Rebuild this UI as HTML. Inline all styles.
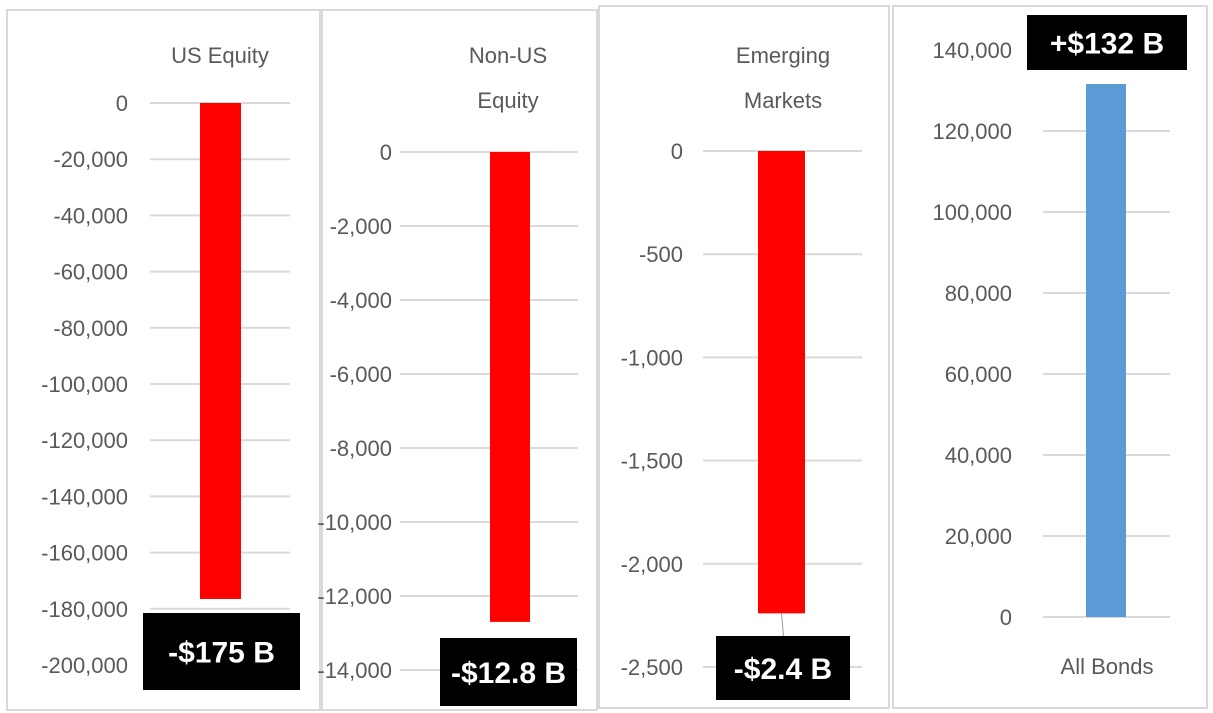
<!DOCTYPE html>
<html><head><meta charset="utf-8"><style>
body{margin:0;background:#fff;}
svg{display:block;font-family:"Liberation Sans",sans-serif;}
.t{fill:#595959;font-size:22px;}
</style></head><body>
<svg id="s" width="1213" height="713" viewBox="0 0 1213 713">
<rect x="7" y="10" width="313" height="700" fill="none" stroke="#d9d9d9" stroke-width="2"/>
<rect x="322" y="10" width="275" height="700" fill="none" stroke="#d9d9d9" stroke-width="2"/>
<rect x="599" y="6" width="290" height="702" fill="none" stroke="#d9d9d9" stroke-width="2"/>
<rect x="893" y="6" width="314" height="702" fill="none" stroke="#d9d9d9" stroke-width="2"/>
</svg>
<script>
const categories=["US Equity","Non-US Equity","Emerging Markets","All Bonds"];
const values=[-176500,-12700,-2240,131600];
const labels=["-$175 B","-$12.8 B","-$2.4 B","+$132 B"];
const tickMin=[-200000,-14000,-2500,0];
const tickMax=[0,0,0,140000];
const tickStep=[20000,2000,500,20000];
const P=[
 {y0:103,y1:665,gx0:150,gx1:290,bx:200,bw:41,lx:128,title:["US Equity"],tx:220,box:[143,613,157,77],col:"#ff0000"},
 {y0:152,y1:670,gx0:400,gx1:578,bx:490,bw:40,lx:392,title:["Non-US","Equity"],tx:508,box:[440,638,137,68],col:"#ff0000"},
 {y0:151,y1:667,gx0:703,gx1:862,bx:758,bw:47,lx:683,title:["Emerging","Markets"],tx:783,box:[716,636,134,64],col:"#ff0000"},
 {y0:617,y1:50,gx0:1043,gx1:1170,bx:1086,bw:40,lx:1012,title:[],tx:1107,box:[1027,15,160,55],col:"#5b9bd5"}
];
const s=document.getElementById('s');
const NS="http://www.w3.org/2000/svg";
function mk(t,a){const e=document.createElementNS(NS,t);for(const k in a)e.setAttribute(k,a[k]);s.appendChild(e);return e;}
P.forEach((p,i)=>{
 const zeroV=i===3?tickMin[i]:tickMax[i], farV=i===3?tickMax[i]:tickMin[i];
 const y=v=>p.y0+(v-zeroV)/(farV-zeroV)*(p.y1-p.y0);
 for(let v=tickMin[i];v<=tickMax[i]+1e-9;v+=tickStep[i]){
  const g=mk('line',{x1:p.gx0,x2:p.gx1,y1:y(v),y2:y(v),stroke:'#d9d9d9','stroke-width':2});
  
  
  const t=mk('text',{x:p.lx,y:y(v)+8,'text-anchor':'end',class:'t'});
  
  
  t.textContent=v.toLocaleString('en-US');
 }
 const ya=y(0),yb=y(values[i]);
 const b=mk('rect',{x:p.bx,y:Math.min(ya,yb),width:p.bw,height:Math.abs(yb-ya),fill:p.col});
 
 
 p.title.forEach((ln,j)=>{
  const t=mk('text',{x:p.tx,y:63+j*45,'text-anchor':'middle',class:'t'});
  
  
  t.textContent=ln;
 });
 if(i===2){const l=mk('line',{x1:p.bx+p.bw/2,y1:yb,x2:p.bx+p.bw/2+2,y2:p.box[1],stroke:'#999','stroke-width':1});
  
  }
 const r=mk('rect',{x:p.box[0],y:p.box[1],width:p.box[2],height:p.box[3],fill:'#000'});
 
 
 const t=mk('text',{x:p.box[0]+p.box[2]/2,y:p.box[1]+p.box[3]/2+11,'text-anchor':'middle',fill:'#fff','font-size':'30','font-weight':'bold'});
 
 
 t.textContent=labels[i];
 if(i===3){const c=mk('text',{x:p.tx,y:674,'text-anchor':'middle',class:'t'});
  
  
  c.textContent=categories[i];}
});
</script>
</body></html>
